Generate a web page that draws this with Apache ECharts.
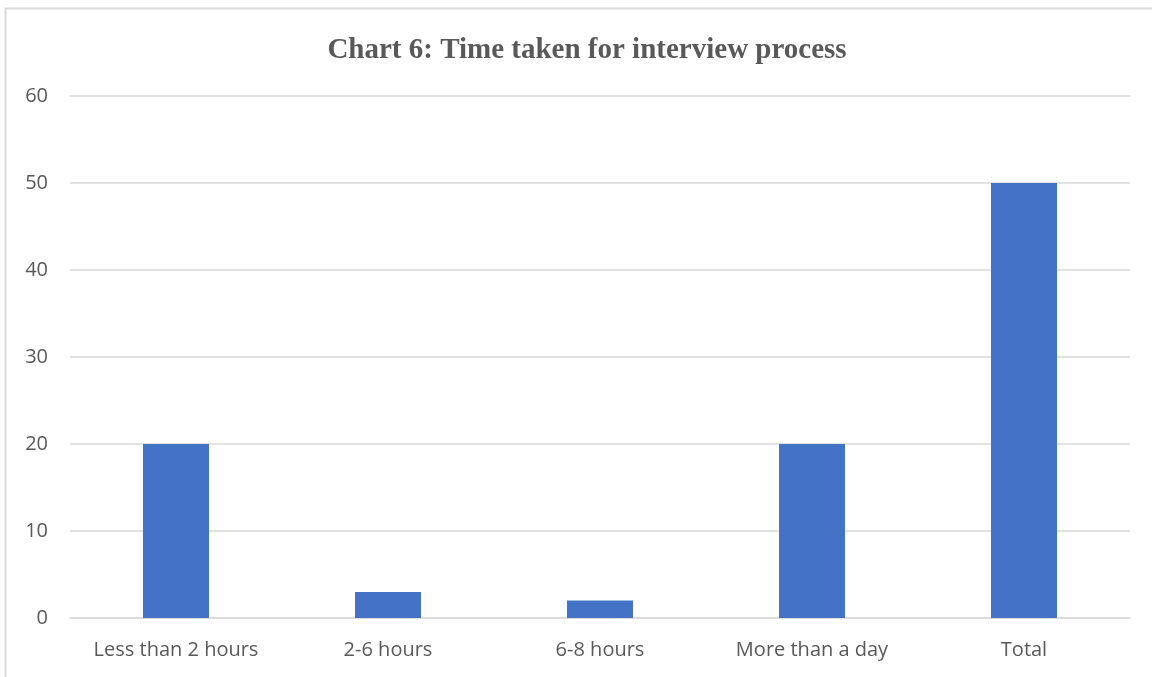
<!DOCTYPE html>
<html><head><meta charset="utf-8">
<script src="https://cdn.jsdelivr.net/npm/echarts@6/dist/echarts.min.js"></script>
<style>html,body{margin:0;padding:0;background:#fff}#c{width:1152px;height:677px}</style>
</head><body><div id="c"></div>
<script>
const categories = ["Less than 2 hours", "2-6 hours", "6-8 hours", "More than a day", "Total"];
const values = [20, 3, 2, 20, 50];
const yTicks = [0, 10, 20, 30, 40, 50, 60];
const titleText = "Chart 6: Time taken for interview process";

const chart = echarts.init(document.getElementById('c'));
chart.setOption({
  backgroundColor: '#fff',
  animation: false,
  title: {
    text: titleText, left: 582, textAlign: 'center', top: 31,
    textStyle: { fontFamily: 'Liberation Serif', fontWeight: 'bold', fontSize: 29, color: '#595959' }
  },
  graphic: [{
    type: 'rect', shape: { x: 5.5, y: 8.5, width: 1200, height: 700 },
    style: { fill: 'none', stroke: '#d9d9d9', lineWidth: 2 }, silent: true
  }],
  grid: { left: 70, right: 22, top: 96, bottom: 59, containLabel: false },
  xAxis: {
    type: 'category', data: categories,
    axisLine: { lineStyle: { color: '#d9d9d9', width: 1.5 } },
    axisTick: { show: false },
    axisLabel: { color: '#595959', fontFamily: 'Open Sans', fontSize: 20, margin: 22, interval: 0 }
  },
  yAxis: {
    type: 'value', min: yTicks[0], max: yTicks[yTicks.length - 1], interval: 10,
    axisLine: { show: false }, axisTick: { show: false },
    splitLine: { lineStyle: { color: '#d9d9d9', width: 1.5 } },
    axisLabel: { color: '#595959', fontFamily: 'Open Sans', fontSize: 20, margin: 22 }
  },
  series: [{
    type: 'bar', data: values, barWidth: 66,
    itemStyle: { color: '#4472c4' }
  }]
});
</script></body></html>
